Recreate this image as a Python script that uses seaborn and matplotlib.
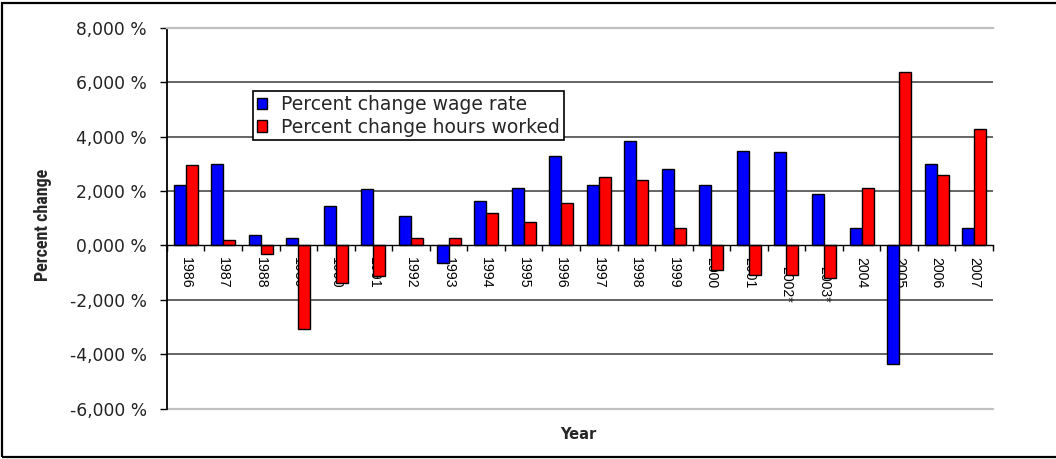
import numpy as np
import pandas as pd
import matplotlib
matplotlib.use("Agg")
import matplotlib.pyplot as plt
from matplotlib import font_manager
from matplotlib.patches import Patch, Rectangle
from matplotlib.ticker import FixedLocator, FuncFormatter
from matplotlib.transforms import ScaledTranslation
import seaborn as sns

# ---- data -------------------------------------------------------------
years = ["1986", "1987", "1988", "1989", "1990", "1991", "1992", "1993",
         "1994", "1995", "1996", "1997", "1998", "1999", "2000", "2001",
         "2002*", "2003*", "2004", "2005", "2006", "2007"]
wage_rate = [2.24, 2.99, 0.37, 0.28, 1.44, 2.06, 1.09, -0.63, 1.65, 2.10, 3.29,
             2.24, 3.83, 2.83, 2.24, 3.49, 3.45, 1.90, 0.63, -4.35, 2.99, 0.63]
hours_worked = [2.95, 0.21, -0.33, -3.08, -1.39, -1.14, 0.29, 0.29, 1.19, 0.85, 1.56,
                2.53, 2.40, 0.63, -0.90, -1.09, -1.09, -1.19, 2.10, 6.37, 2.58, 4.27]
series_names = ["Percent change wage rate", "Percent change hours worked"]
y_ticks = [-6, -4, -2, 0, 2, 4, 6, 8]

colors = ["#0000ff", "#ff0000"]

df = pd.DataFrame({
    "Year": years * 2,
    "value": wage_rate + hours_worked,
    "series": [series_names[0]] * len(years) + [series_names[1]] * len(years),
})

# pick a condensed face for the axis title if one is available
installed = {f.name for f in font_manager.fontManager.ttflist}
narrow_family = "Liberation Sans"
for cand in ["Liberation Sans Narrow", "DejaVu Sans Condensed", "Roboto Condensed"]:
    if cand in installed:
        narrow_family = cand
        break
narrow_size = 13 if narrow_family != "Liberation Sans" else 11

# ---- figure -----------------------------------------------------------
sns.set_theme(style="white")
plt.rcParams["font.family"] = ["Liberation Sans", "DejaVu Sans"]

fig = plt.figure(figsize=(10.56, 4.59), dpi=100)
ax = fig.add_axes([0.1581, 0.110, 0.7822, 0.829])

sns.barplot(data=df, x="Year", y="value", hue="series", order=years,
            hue_order=series_names, palette=colors, saturation=1,
            width=0.64, edgecolor="black", linewidth=1.0, legend=False, ax=ax)

ax.set_xlim(-0.5, len(years) - 0.5)
ax.set_ylim(y_ticks[0], y_ticks[-1])
ax.set_axisbelow(True)

# horizontal grid lines (inner ones dark, frame edges light grey)
for v in y_ticks[1:-1]:
    if v != 0:
        ax.axhline(v, color="#3a3a3a", lw=1.1, zorder=0.6)
ax.axhline(y_ticks[0], color="#c0c0c0", lw=1.6, zorder=0.6, clip_on=False)

# spines: category axis sits on the zero line
ax.spines["bottom"].set_position(("data", 0))
ax.spines["bottom"].set_color("black")
ax.spines["bottom"].set_linewidth(1.0)
ax.spines["left"].set_color("black")
ax.spines["left"].set_linewidth(1.3)
ax.spines["top"].set_color("#c0c0c0")
ax.spines["top"].set_linewidth(1.6)
ax.spines["right"].set_visible(False)

# y axis
ax.yaxis.set_major_locator(FixedLocator(y_ticks))
ax.yaxis.set_major_formatter(FuncFormatter(
    lambda v, p: f"{v:.3f}".replace(".", ",") + " %"))
ax.tick_params(axis="y", which="major", left=True, length=5, width=1,
               color="black", direction="out", pad=9.4,
               labelsize=12.3, labelcolor="#222222")
for lab in ax.get_yticklabels():
    lab.set_family("DejaVu Sans")

# x axis: labels at category centres, marks between categories
ax.set_xticks(range(len(years)))
ax.set_xticklabels(years)
ax.set_xticks(np.arange(-0.5, len(years), 1.0), minor=True)
ax.tick_params(axis="x", which="major", bottom=True, length=0, pad=8.0,
               labelsize=10.2, labelcolor="black", labelrotation=270)
ax.tick_params(axis="x", which="minor", bottom=True, length=4, width=1,
               color="black", direction="out")

ax.set_ylabel("Percent change", fontsize=narrow_size, fontweight="bold",
              family=[narrow_family, "DejaVu Sans"])
ax.yaxis.set_label_coords(-0.139, 0.482)
ax.set_xlabel("Year", fontsize=10.5, fontweight="bold", family="DejaVu Sans")
ax.xaxis.set_label_coords(0.4976, -0.049)

# legend
handles = [Patch(facecolor=c, edgecolor="black", linewidth=1.0) for c in colors]
leg = ax.legend(handles, series_names, loc="upper left",
                bbox_to_anchor=(0.104, 0.834), borderaxespad=0,
                frameon=True, fancybox=False, framealpha=1,
                edgecolor="black", handlelength=0.55, handleheight=0.55,
                handletextpad=0.75, labelspacing=0.2, borderpad=0.2,
                prop={"family": "DejaVu Sans", "size": 13.5})
leg.get_frame().set_linewidth(1.2)

# outer chart border
fig.patches.append(Rectangle((0.002, 0.004), 1.2, 0.99, transform=fig.transFigure,
                             fill=False, edgecolor="black", linewidth=1.6))

# starred year labels sit a little lower
fig.canvas.draw()
for lab in ax.get_xticklabels():
    if "*" in lab.get_text():
        lab.set_transform(lab.get_transform() +
                          ScaledTranslation(0, -0.09, fig.dpi_scale_trans))

fig.savefig("out.png", dpi=100)
